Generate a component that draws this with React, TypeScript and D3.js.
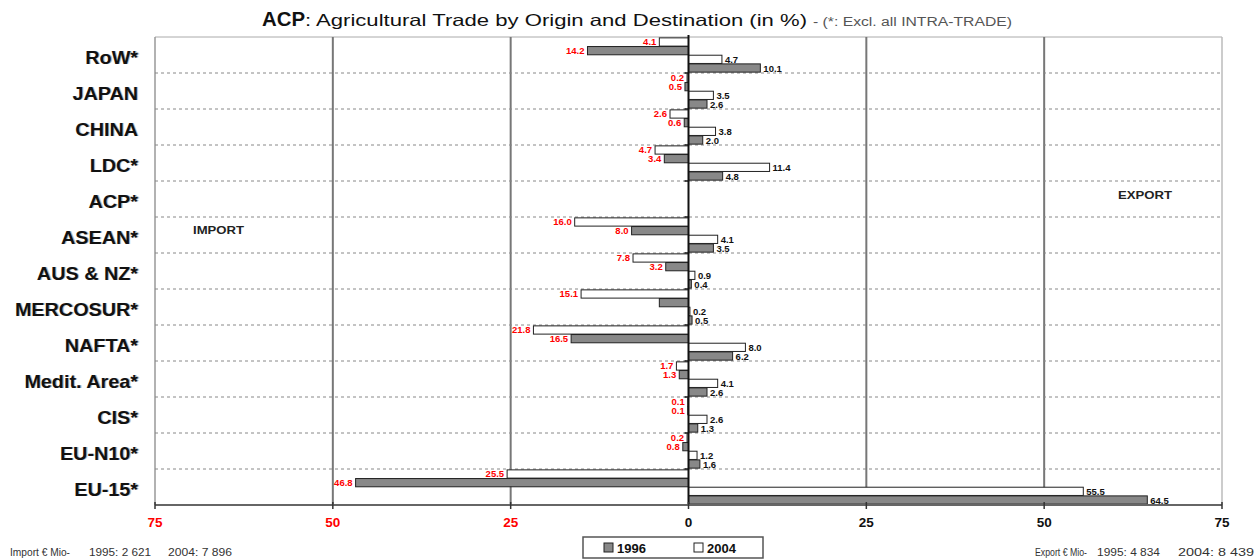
import React from "react";
import * as d3 from "d3";

const categories = ["RoW*", "JAPAN", "CHINA", "LDC*", "ACP*", "ASEAN*", "AUS & NZ*", "MERCOSUR*", "NAFTA*", "Medit. Area*", "CIS*", "EU-N10*", "EU-15*"];
const import1996 = [14.2, 0.5, 0.6, 3.4, 0, 8.0, 3.2, 4.1, 16.5, 1.3, 0.1, 0.8, 46.8];
const import2004 = [4.1, 0.2, 2.6, 4.7, 0, 16.0, 7.8, 15.1, 21.8, 1.7, 0.1, 0.2, 25.5];
const export1996 = [10.1, 2.6, 2.0, 4.8, 0, 3.5, 0.4, 0.5, 6.2, 2.6, 1.3, 1.6, 64.5];
const export2004 = [4.7, 3.5, 3.8, 11.4, 0, 4.1, 0.9, 0.2, 8.0, 4.1, 2.6, 1.2, 55.5];
const hiddenLabels = ["import1996-MERCOSUR*"];
const xTicks = [-75, -50, -25, 0, 25, 50, 75];
const legendItems = ["1996", "2004"];

const W = 1258;
const H = 560;
const left = 155;
const right = 1222;
const top = 37;
const bottom = 505;

export default function App() {
  const x = d3.scaleLinear().domain([-75, 75]).range([left, right]);
  const y = d3.scaleBand<string>().domain(categories).range([top, bottom]);
  const sub = d3
    .scaleBand<string>()
    .domain(["i2004", "i1996", "e2004", "e1996"])
    .range([0, y.bandwidth()])
    .paddingOuter(0.1)
    .paddingInner(0.05);

  const series = [
    { key: "i2004", name: "import2004", vals: import2004, sign: -1, fill: "#ffffff" },
    { key: "i1996", name: "import1996", vals: import1996, sign: -1, fill: "#888888" },
    { key: "e2004", name: "export2004", vals: export2004, sign: 1, fill: "#ffffff" },
    { key: "e1996", name: "export1996", vals: export1996, sign: 1, fill: "#888888" },
  ];

  const font = "'Liberation Sans', Arial, sans-serif";

  return (
    <svg width={W} height={H} style={{ position: "absolute", left: 0, top: 0, background: "#fff" }}>
      <rect x={0} y={0} width={W} height={H} fill="#fff" />
      {/* title */}
      <text x={262} y={26} fontFamily={font} fontSize={20} fontWeight="bold" fill="#111" textLength={43} lengthAdjust="spacingAndGlyphs">
        ACP
      </text>
      <text x={305} y={26} fontFamily={font} fontSize={16.5} fill="#111" textLength={502} lengthAdjust="spacingAndGlyphs">
        : Agricultural Trade by Origin and Destination (in %)
      </text>
      <text x={813} y={26} fontFamily={font} fontSize={12} fill="#555" textLength={199} lengthAdjust="spacingAndGlyphs">
        - (*: Excl. all INTRA-TRADE)
      </text>

      {/* frame */}
      <line x1={left} x2={right} y1={top} y2={top} stroke="#aaa" strokeWidth={1} />
      <line x1={left} x2={left} y1={top} y2={bottom} stroke="#999" strokeWidth={1.5} />
      <line x1={right} x2={right} y1={top} y2={bottom} stroke="#bbb" strokeWidth={1.5} />

      {/* grid lines */}
      {xTicks
        .filter((t) => t !== 0 && Math.abs(t) !== 75)
        .map((t) => (
          <line key={"g" + t} x1={x(t)} x2={x(t)} y1={top} y2={bottom} stroke="#777" strokeWidth={2} />
        ))}

      {/* row separators */}
      {categories.slice(1).map((c) => (
        <line
          key={"sep" + c}
          x1={left}
          x2={right}
          y1={y(c)!}
          y2={y(c)!}
          stroke="#888"
          strokeWidth={1}
          strokeDasharray="3,3"
        />
      ))}
      {categories.slice(1).map((c) => (
        <line key={"tk" + c} x1={x(0) - 4} x2={x(0)} y1={y(c)!} y2={y(c)!} stroke="#111" strokeWidth={1.5} />
      ))}

      {/* bars */}
      {series.map((s) =>
        categories.map((c, i) => {
          const v = s.vals[i];
          if (!v) return null;
          const x0 = x(0);
          const x1 = x(s.sign * v);
          const by = y(c)! + sub(s.key)!;
          const bh = sub.bandwidth();
          return (
            <rect
              key={s.key + c}
              x={Math.min(x0, x1)}
              y={by}
              width={Math.abs(x1 - x0)}
              height={bh}
              fill={s.fill}
              stroke="#222"
              strokeWidth={1}
            />
          );
        })
      )}

      {/* value labels */}
      {series.map((s) =>
        categories.map((c, i) => {
          const v = s.vals[i];
          if (!v) return null;
          if (hiddenLabels.includes(s.name + "-" + c)) return null;
          const x1 = x(s.sign * v);
          const by = y(c)! + sub(s.key)! + sub.bandwidth() / 2;
          const imp = s.sign < 0;
          return (
            <text
              key={"l" + s.key + c}
              x={imp ? x1 - 3 : x1 + 3}
              y={by + 3.5}
              textAnchor={imp ? "end" : "start"}
              fontFamily={font}
              fontSize={9.5}
              fontWeight="bold"
              fill={imp ? "#ff0000" : "#111"}
            >
              {v.toFixed(1)}
            </text>
          );
        })
      )}

      {/* zero line */}
      <line x1={x(0)} x2={x(0)} y1={top - 2} y2={bottom} stroke="#111" strokeWidth={2} />

      {/* category labels */}
      {categories.map((c) => (
        <g key={"c" + c} transform={`translate(138, ${y(c)! + y.bandwidth() / 2 + 8.5}) scale(1.1, 1)`}>
          <text x={1} y={0.5} textAnchor="end" fontFamily={font} fontSize={18} fontWeight="bold" fill="#bbb">
            {c}
          </text>
          <text x={0} y={0} textAnchor="end" fontFamily={font} fontSize={18} fontWeight="bold" fill="#111">
            {c}
          </text>
        </g>
      ))}

      {/* IMPORT / EXPORT */}
      <text x={193} y={234} fontFamily={font} fontSize={10} fontWeight="bold" fill="#222" textLength={51} lengthAdjust="spacingAndGlyphs">IMPORT</text>
      <text x={1118} y={199} fontFamily={font} fontSize={10} fontWeight="bold" fill="#222" textLength={54} lengthAdjust="spacingAndGlyphs">EXPORT</text>

      {/* x axis */}
      <line x1={left} x2={right} y1={bottom} y2={bottom} stroke="#666" strokeWidth={2} />
      {xTicks.map((t) => (
        <g key={"t" + t}>
          <line x1={x(t)} x2={x(t)} y1={bottom - 3} y2={bottom + 4} stroke="#333" strokeWidth={1.5} />
          <text
            x={x(t)}
            y={527}
            textAnchor="middle"
            fontFamily={font}
            fontSize={13.5}
            fontWeight="bold"
            fill={t < 0 ? "#ff0000" : "#111"}
          >
            {Math.abs(t)}
          </text>
        </g>
      ))}

      {/* legend */}
      <rect x={583} y={537} width={180} height={21} fill="#fff" stroke="#555" strokeWidth={1.5} />
      {legendItems.map((l, i) => (
        <g key={"lg" + l}>
          <rect
            x={604 + i * 90}
            y={543}
            width={9}
            height={9}
            fill={i === 0 ? "#888888" : "#ffffff"}
            stroke="#222"
            strokeWidth={1}
          />
          <text x={617 + i * 90} y={553} fontFamily={font} fontSize={13} fontWeight="bold" fill="#111">
            {l}
          </text>
        </g>
      ))}

      {/* footer */}
      <g fontFamily={font} fontSize={10} fill="#333">
        <text x={10} y={556} textLength={60} lengthAdjust="spacingAndGlyphs">Import € Mio-</text>
        <text x={89} y={556} textLength={62} lengthAdjust="spacingAndGlyphs">1995: 2 621</text>
        <text x={168} y={556} textLength={64} lengthAdjust="spacingAndGlyphs">2004: 7 896</text>
        <text x={1035} y={556} textLength={52} lengthAdjust="spacingAndGlyphs">Export € Mio-</text>
        <text x={1097} y={556} textLength={63} lengthAdjust="spacingAndGlyphs">1995: 4 834</text>
        <text x={1178} y={556} textLength={76} lengthAdjust="spacingAndGlyphs">2004: 8 439</text>
      </g>
    </svg>
  );
}
